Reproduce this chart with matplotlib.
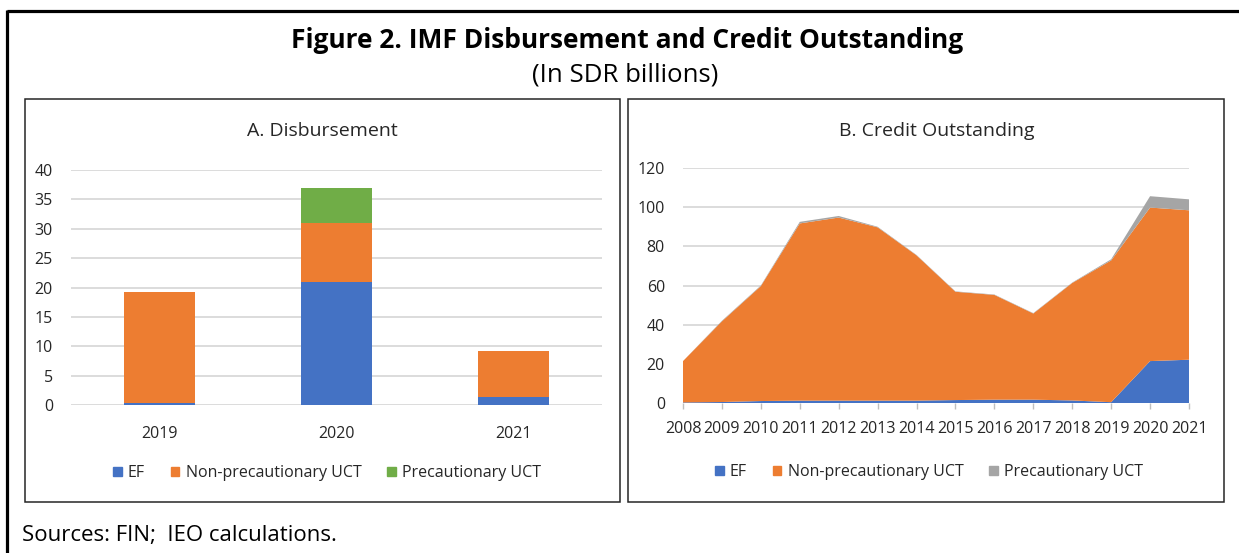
import matplotlib
matplotlib.use("Agg")
import matplotlib.pyplot as plt
from matplotlib.patches import Patch, Rectangle
from matplotlib.lines import Line2D

plt.rcParams['font.family'] = ['Open Sans', 'DejaVu Sans']

# ---------------- data ----------------
disb_years = ["2019", "2020", "2021"]
disb_ef = [0.3, 21.0, 1.4]
disb_nonprec = [19.0, 10.0, 7.8]
disb_prec = [0.0, 6.0, 0.0]

credit_years = [2008, 2009, 2010, 2011, 2012, 2013, 2014,
                2015, 2016, 2017, 2018, 2019, 2020, 2021]
credit_ef = [0.3, 0.5, 1.0, 1.2, 1.2, 1.2, 1.2, 1.5, 1.7, 1.7, 1.3, 0.4, 21.4, 22.1]
credit_nonprec = [21.1, 41.2, 58.7, 90.5, 93.5, 88.5, 74.2, 55.3, 53.5, 44.0, 60.0, 72.4, 78.4, 76.3]
credit_prec = [0.0, 0.3, 0.3, 0.8, 0.8, 0.3, 0.2, 0.2, 0.2, 0.2, 0.2, 0.6, 5.8, 5.6]

series_labels = ["EF", "Non-precautionary UCT", "Precautionary UCT"]
BLUE, ORANGE, GREEN, GREY = "#4472C4", "#ED7D31", "#70AD47", "#A5A5A5"
GRID = "#D9D9D9"
TXT = "#262626"

W, H = 1239, 553
fig = plt.figure(figsize=(W / 100, H / 100), dpi=100)


def fx(px):
    return px / W


def fy(py):
    return 1 - py / H


# outer frame (top and left thick black lines)
fig.add_artist(Line2D([fx(7), 1.0], [fy(10.8), fy(10.8)], color="black", lw=2.3,
                      transform=fig.transFigure, solid_capstyle="butt"))
fig.add_artist(Line2D([fx(7), fx(7)], [fy(9.7), 0.0], color="black", lw=2.3,
                      transform=fig.transFigure, solid_capstyle="butt"))

# panel boxes
for (x0, x1) in [(25, 620), (628, 1224)]:
    fig.add_artist(Rectangle((fx(x0), fy(502)), fx(x1) - fx(x0), fy(99) - fy(502),
                             transform=fig.transFigure, fill=False,
                             edgecolor="#262626", lw=1.1))

# titles
fig.text(fx(627), fy(40), "Figure 2. IMF Disbursement and Credit Outstanding",
         ha="center", va="center", fontsize=19, fontweight="bold", color="black")
fig.text(fx(625), fy(75), "(In SDR billions)", ha="center", va="center",
         fontsize=18.5, color="black")
fig.text(fx(22), fy(536), "Sources: FIN;  IEO calculations.", ha="left", va="center",
         fontsize=16, color="black")

# ---------------- Panel A ----------------
axL = fig.add_axes([fx(71), fy(405), fx(602) - fx(71), (405 - 170) / H])
x = list(range(len(disb_years)))
bw = 0.40
axL.bar(x, disb_ef, bw, color=BLUE, zorder=3)
axL.bar(x, disb_nonprec, bw, bottom=disb_ef, color=ORANGE, zorder=3)
bot2 = [a + b for a, b in zip(disb_ef, disb_nonprec)]
axL.bar(x, disb_prec, bw, bottom=bot2, color=GREEN, zorder=3)
axL.set_xlim(-0.5, 2.5)
axL.set_ylim(0, 40)
axL.set_yticks(range(0, 41, 5))
axL.set_xticks(x)
axL.set_xticklabels(disb_years)
axL.yaxis.grid(True, color=GRID, lw=1.3, zorder=0)
axL.set_axisbelow(True)
for s in axL.spines.values():
    s.set_visible(False)
axL.tick_params(axis="both", length=0, labelsize=11.5, colors=TXT)
axL.tick_params(axis="y", pad=13)
axL.tick_params(axis="x", pad=15)
fig.text(fx(322), fy(131), "A. Disbursement", ha="center", va="center",
         fontsize=14, color=TXT)

handlesL = [Patch(color=BLUE), Patch(color=ORANGE), Patch(color=GREEN)]
fig.legend(handlesL, series_labels, loc="center", bbox_to_anchor=(fx(327), fy(473)),
           ncol=3, frameon=False, handlelength=0.55, handleheight=0.55,
           handletextpad=0.4, columnspacing=1.6, fontsize=11.5,
           labelcolor=TXT)

# ---------------- Panel B ----------------
axR = fig.add_axes([fx(683), fy(403), fx(1189) - fx(683), (403 - 168) / H])
axR.stackplot(credit_years, credit_ef, credit_nonprec, credit_prec,
              colors=[BLUE, ORANGE, GREY], zorder=3, lw=0)
axR.set_xlim(2008, 2021)
axR.set_ylim(0, 120)
axR.set_yticks(range(0, 121, 20))
axR.set_xticks(credit_years)
axR.set_xticklabels([str(y) for y in credit_years])
axR.yaxis.grid(True, color=GRID, lw=1.3, zorder=0)
axR.set_axisbelow(True)
for k, s in axR.spines.items():
    s.set_visible(False)
axR.tick_params(axis="y", length=0, labelsize=11.5, colors=TXT, pad=13)
axR.tick_params(axis="x", length=4, width=1.0, color="#BFBFBF",
                labelsize=11.5, labelcolor=TXT, pad=9)
fig.text(fx(937), fy(131), "B. Credit Outstanding", ha="center", va="center",
         fontsize=14, color=TXT)

handlesR = [Patch(color=BLUE), Patch(color=ORANGE), Patch(color=GREY)]
fig.legend(handlesR, series_labels, loc="center", bbox_to_anchor=(fx(929), fy(472)),
           ncol=3, frameon=False, handlelength=0.55, handleheight=0.55,
           handletextpad=0.4, columnspacing=1.6, fontsize=11.5,
           labelcolor=TXT)

fig.savefig("out.png", dpi=100)
